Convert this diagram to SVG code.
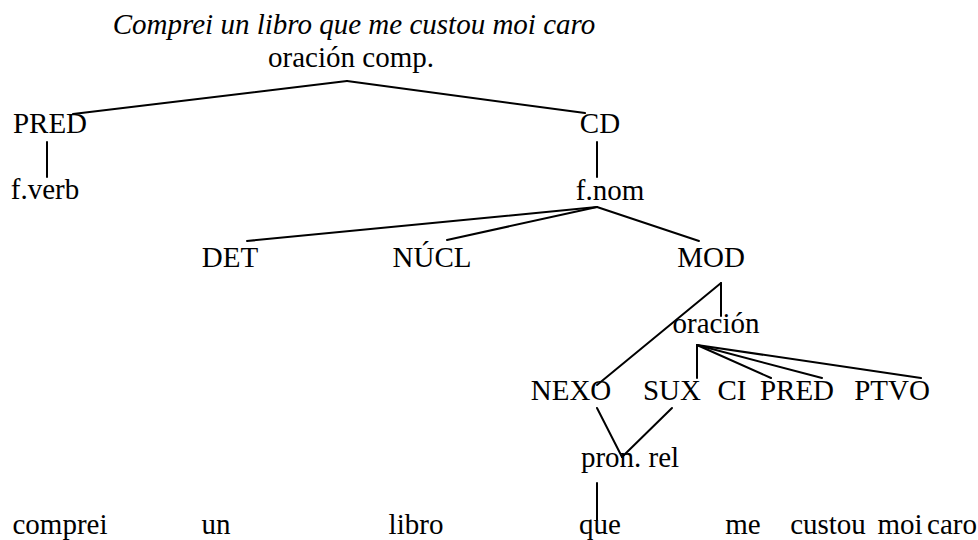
<svg xmlns="http://www.w3.org/2000/svg" width="978" height="540" viewBox="0 0 978 540">
<style>
text{font-size:29px;fill:#000;text-anchor:middle}
.it{font-style:italic}
#connectors line{stroke:#000;stroke-width:2;stroke-linecap:round}
</style>
<rect width="978" height="540" fill="#fff"/>
<g id="connectors">
<line x1="347" y1="81" x2="73" y2="114"/>
<line x1="347" y1="81" x2="585" y2="113"/>
<line x1="47" y1="142" x2="47" y2="177"/>
<line x1="597" y1="142" x2="597" y2="177"/>
<line x1="597" y1="207" x2="247" y2="241"/>
<line x1="597" y1="207" x2="447" y2="240"/>
<line x1="597" y1="207" x2="699" y2="241"/>
<line x1="721" y1="283" x2="721" y2="316"/>
<line x1="721" y1="283" x2="597" y2="385"/>
<line x1="697" y1="345" x2="697" y2="378"/>
<line x1="697" y1="345" x2="771" y2="378"/>
<line x1="697" y1="345" x2="822" y2="378"/>
<line x1="697" y1="345" x2="921" y2="378"/>
<line x1="597" y1="408" x2="622" y2="457"/>
<line x1="672" y1="408" x2="622" y2="457"/>
<line x1="597" y1="483" x2="597" y2="520"/>
</g>
<g font-family="Liberation Serif, DejaVu Serif, Times New Roman, serif">
<g id="title"><text class="it" x="354" y="34">Comprei un libro que me custou moi caro</text></g>
<g id="oracion-comp"><text x="351" y="67">oración comp.</text></g>
<g id="pred1"><text x="50" y="133">PRED</text></g>
<g id="cd"><text x="600" y="133">CD</text></g>
<g id="fverb"><text x="45" y="199">f.verb</text></g>
<g id="fnom"><text x="610" y="200">f.nom</text></g>
<g id="det"><text x="230" y="267">DET</text></g>
<g id="nucl"><text x="432" y="267">NÚCL</text></g>
<g id="mod"><text x="711" y="267">MOD</text></g>
<g id="oracion"><text x="716" y="333">oración</text></g>
<g id="nexo"><text x="571" y="400">NEXO</text></g>
<g id="sux"><text x="672" y="400">SUX</text></g>
<g id="ci"><text x="732" y="400">CI</text></g>
<g id="pred2"><text x="797" y="400">PRED</text></g>
<g id="ptvo"><text x="892" y="400">PTVO</text></g>
<g id="pronrel"><text x="630" y="467">pron. rel</text></g>
<g id="words">
<text x="60" y="534">comprei</text>
<text x="216" y="534">un</text>
<text x="416" y="534">libro</text>
<text x="600" y="534">que</text>
<text x="743" y="534">me</text>
<text x="828" y="534">custou</text>
<text x="900" y="534">moi</text>
<text x="952" y="534">caro</text>
</g>
</g>
</svg>
